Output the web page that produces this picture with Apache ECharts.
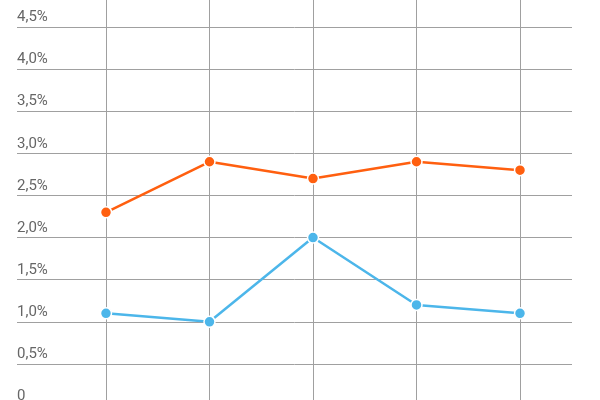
<!DOCTYPE html>
<html>
<head>
<meta charset="utf-8">
<script src="https://cdn.jsdelivr.net/npm/echarts@6/dist/echarts.min.js"></script>
<style>
html,body{margin:0;padding:0;background:#fff;}
#chart{width:600px;height:400px;}
</style>
</head>
<body>
<div id="chart"></div>
<script>
var categories = ['1', '2', '3', '4', '5'];
var seriesOrange = [2.3, 2.9, 2.7, 2.9, 2.8];
var seriesBlue = [1.1, 1.0, 2.0, 1.2, 1.1];
var yTickValues = [0, 0.5, 1.0, 1.5, 2.0, 2.5, 3.0, 3.5, 4.0, 4.5];
var yTickLabels = ['0', '0,5%', '1,0%', '1,5%', '2,0%', '2,5%', '3,0%', '3,5%', '4,0%', '4,5%'];

var chart = echarts.init(document.getElementById('chart'), null, {renderer: 'canvas'});
var zeroY = 406, topTick = 27;
var pxPerUnit = (zeroY - topTick) / 4.5;
var maxB = zeroY / pxPerUnit;

function labelFor(v) {
  for (var i = 0; i < yTickValues.length; i++) {
    if (Math.abs(yTickValues[i] - v) < 1e-6) return yTickLabels[i];
  }
  return '';
}

var option = {
  animation: false,
  backgroundColor: '#ffffff',
  grid: [
    {left: 17, width: 555, top: topTick, height: zeroY - topTick, containLabel: false, outerBoundsMode: 'none'},
    {left: 106, width: 414, top: 0, height: zeroY, containLabel: false, outerBoundsMode: 'none'}
  ],
  xAxis: [
    {gridIndex: 0, type: 'value', show: false, min: 0, max: 1},
    {gridIndex: 1, type: 'category', data: categories, boundaryGap: false,
      axisLine: {show: false}, axisTick: {show: false}, axisLabel: {show: false},
      splitLine: {show: true, lineStyle: {color: '#a0a0a0', width: 1}}}
  ],
  yAxis: [
    {gridIndex: 0, type: 'value', min: 0, max: 4.5, interval: 0.5,
      axisLine: {show: false}, axisTick: {show: false},
      splitLine: {show: true, lineStyle: {color: '#a0a0a0', width: 1}},
      axisLabel: {inside: true, margin: 0, verticalAlign: 'bottom', padding: [0, 0, 2, 0],
        color: '#666666', fontSize: 15, fontFamily: 'Roboto',
        formatter: function (v) { return labelFor(v); }}},
    {gridIndex: 1, type: 'value', min: 0, max: maxB, show: false, splitLine: {show: false}}
  ],
  series: [
    {type: 'line', xAxisIndex: 1, yAxisIndex: 1, data: seriesOrange,
      symbol: 'circle', symbolSize: 11,
      lineStyle: {color: '#ff5f0f', width: 2.5},
      itemStyle: {color: '#ff5f0f', borderColor: '#ffffff', borderWidth: 1.5}},
    {type: 'line', xAxisIndex: 1, yAxisIndex: 1, data: seriesBlue,
      symbol: 'circle', symbolSize: 11,
      lineStyle: {color: '#4cb6ea', width: 2.5},
      itemStyle: {color: '#4cb6ea', borderColor: '#ffffff', borderWidth: 1.5}}
  ]
};
chart.setOption(option);
</script>
</body>
</html>
